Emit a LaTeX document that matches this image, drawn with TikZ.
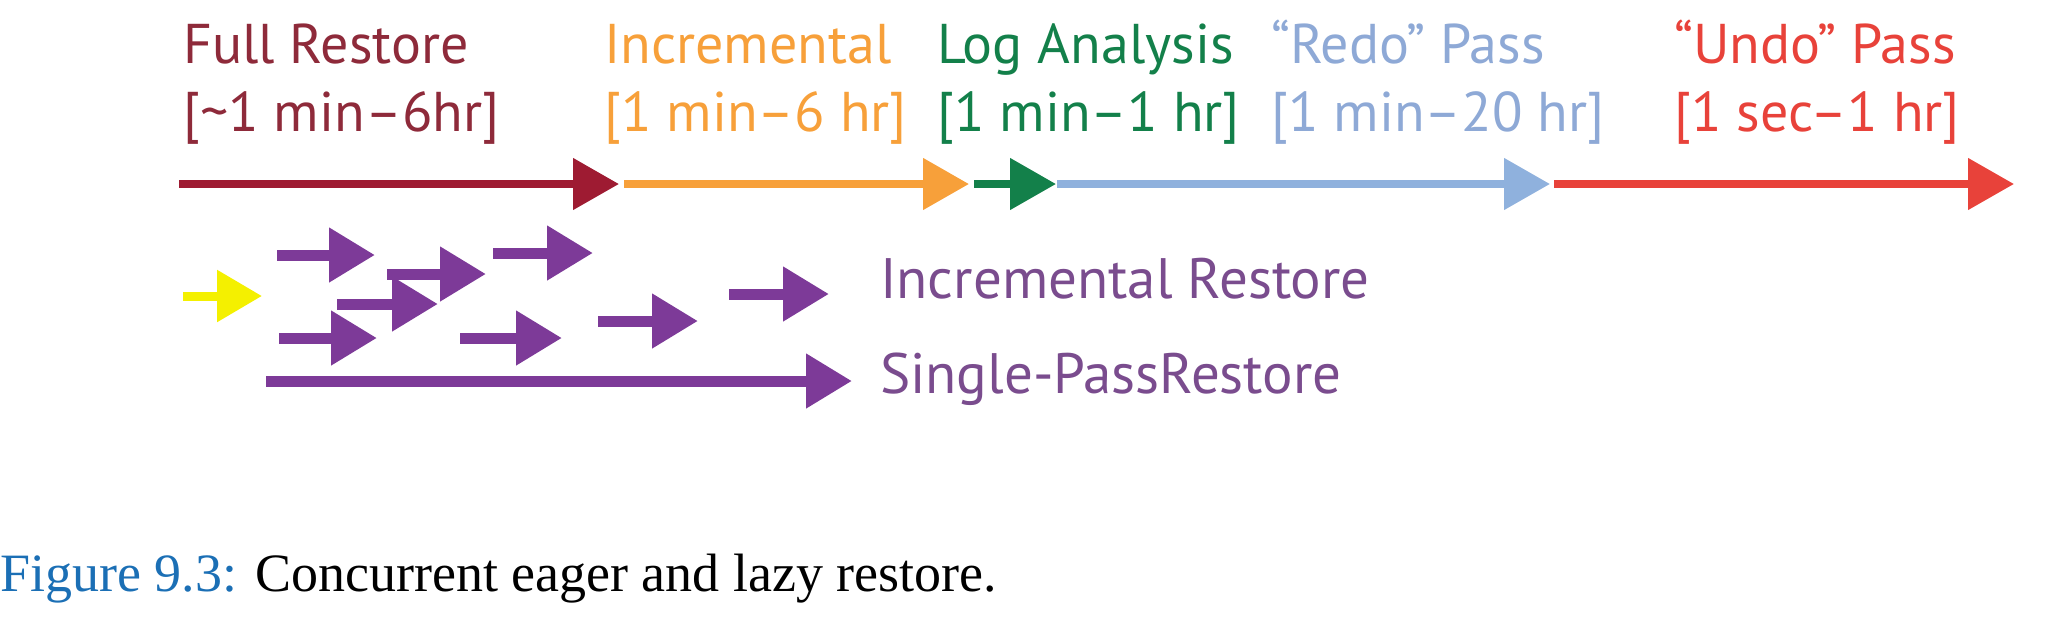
\documentclass[tikz,border=0pt]{standalone}
\usepackage{fontspec}
\setmainfont{Liberation Serif}
\newfontfamily\diagfont{PT Sans}
\usetikzlibrary{arrows.meta}
\definecolor{cDark}{HTML}{9E1B32}
\definecolor{cDarkT}{HTML}{8E2A3A}
\definecolor{cOrange}{HTML}{F7A03A}
\definecolor{cGreen}{HTML}{13804A}
\definecolor{cBlue}{HTML}{8FB1DD}
\definecolor{cBlueT}{HTML}{8EA9D6}
\definecolor{cRed}{HTML}{E8423A}
\definecolor{cPurple}{HTML}{7D3A98}
\definecolor{cPurpleT}{HTML}{7A4C8E}
\definecolor{cYellow}{HTML}{F4F000}
\definecolor{cCap}{HTML}{1B6FB5}
\begin{document}
\begin{tikzpicture}[x=1pt,y=1pt,
  mainarr/.style={line width=8pt,-{Triangle[length=46pt,width=50pt]}},
  smallarr/.style={line width=11pt,cPurple,-{Triangle[length=46pt,width=52pt]}},
  yelarr/.style={line width=9pt,cYellow,-{Triangle[length=45pt,width=50pt]}},
  lbl/.style={anchor=base west,inner sep=0pt,font=\diagfont\fontsize{56}{66}\selectfont},
  lbl2/.style={anchor=base west,inner sep=0pt,font=\diagfont\fontsize{57}{66}\selectfont,text=cPurpleT}]
\useasboundingbox (0,0) rectangle (2051,-633);
% main timeline
\coordinate (m0) at (179,-184);
\coordinate (m1a) at (619,-184);
\coordinate (m1b) at (624,-184);
\coordinate (m2a) at (969,-184);
\coordinate (m2b) at (974,-184);
\coordinate (m3a) at (1056,-184);
\coordinate (m3b) at (1057,-184);
\coordinate (m4a) at (1550,-184);
\coordinate (m4b) at (1554,-184);
\coordinate (m5) at (2014,-184);
\draw[mainarr,cDark] (m0) -- (m1a);
\draw[mainarr,cOrange] (m1b) -- (m2a);
\draw[mainarr,cGreen] (m2b) -- (m3a);
\draw[mainarr,cBlue] (m3b) -- (m4a);
\draw[mainarr,cRed] (m4b) -- (m5);
% phase labels
\node[lbl,text=cDarkT] (t1) at (183,-63) {Full Restore};
\node[lbl,text=cDarkT] (r1) at (183,-131) {[\textasciitilde 1 min–6hr]};
\node[lbl,text=cOrange] (t2) at (604,-63) {Incremental};
\node[lbl,text=cOrange] (r2) at (604,-131) {[1 min–6 hr]};
\node[lbl,text=cGreen] (t3) at (937,-63) {Log Analysis};
\node[lbl,text=cGreen] (r3) at (937,-131) {[1 min–1 hr]};
\node[lbl,text=cBlueT] (t4) at (1271,-63) {“Redo” Pass};
\node[lbl,text=cBlueT] (r4) at (1271,-131) {[1 min–20 hr]};
\node[lbl,text=cRed] (t5) at (1674,-63) {“Undo” Pass};
\node[lbl,text=cRed] (r5) at (1674,-131) {[1 sec–1 hr]};
% yellow start
\coordinate (y0) at (183,-296);
\coordinate (y1) at (262,-296);
\draw[yelarr] (y0) -- (y1);
% incremental restore arrows
\foreach \n/\xa/\xb/\yy in {p1/277/375/-255, p2/493/593/-253, p3/387/486/-274, p4/337/438/-304, p5/279/377/-338, p6/460/562/-338, p7/598/698/-321, p8/729/829/-294}{
  \coordinate (\n s) at (\xa,\yy);
  \coordinate (\n e) at (\xb,\yy);
  \draw[smallarr] (\n s) -- (\n e);
}
% single pass
\coordinate (ls) at (266,-381);
\coordinate (le) at (852,-381);
\draw[smallarr] (ls) -- (le);
\node[lbl2] (ir) at (880,-298) {Incremental Restore};
\node[lbl2] (sp) at (880,-393) {Single-PassRestore};
% caption
\node[anchor=base west,inner sep=0pt,font=\fontsize{54}{64}\selectfont] (cap) at (0,-591) {\textcolor{cCap}{Figure 9.3:} Concurrent eager and lazy restore.};
\end{tikzpicture}
\end{document}
